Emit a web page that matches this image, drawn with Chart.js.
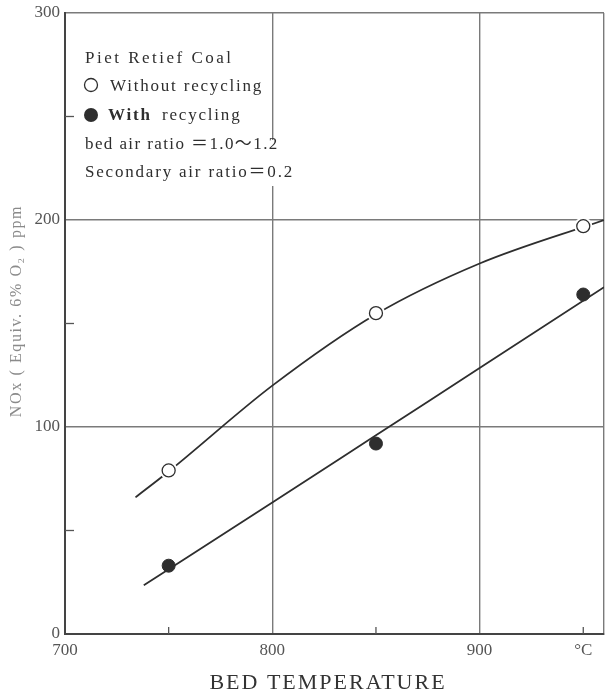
<!DOCTYPE html>
<html>
<head>
<meta charset="utf-8">
<script src="https://cdn.jsdelivr.net/npm/chart.js@4.4.1/dist/chart.umd.min.js"></script>
<style>
  html, body { margin: 0; padding: 0; background: #fff; }
  canvas { display: block; }
</style>
</head>
<body>
<canvas id="noxChart" width="605" height="700"></canvas>
<script>
// measured points
const bedTemps = [750, 850, 950];
const noxWithout = [79, 155, 197];
const noxWith = [33, 92, 164];

// hand-drawn trend curves
const curveWithoutTemps = [734, 750, 800, 850, 900, 960];
const curveWithoutNox = [66, 78.5, 120, 154.5, 179, 200];
const curveWithTemps = [738, 800, 850, 900, 960];
const curveWithNox = [23.5, 63.5, 96, 128.5, 167.5];

// axes
const xTicks = [700, 750, 800, 850, 900, 950];
const xTickLabels = ['700', '', '800', '', '900', '°C'];
const yTicks = [0, 50, 100, 150, 200, 250, 300];
const yTickLabels = ['0', '', '100', '', '200', '', '300'];
const xTitle = 'BED TEMPERATURE';
const yTitle = 'NOx ( Equiv. 6% O₂ ) ppm';

// legend block
const legendTitle = 'Piet Retief Coal';
const legendWithout = 'Without recycling';
const legendWith = 'With recycling';
const noteLines = ['bed air ratio ＝1.0～1.2', 'Secondary air ratio＝0.2'];

const toXY = (xs, ys) => xs.map((x, i) => ({ x: x, y: ys[i] }));

const SERIF = "'Liberation Serif', 'DejaVu Serif', 'Noto Sans CJK JP', serif";
const INK = '#2e2e2e';
const GRID = '#7a7a7a';

// 注記・補助目盛り
const annotate = {
  id: 'annotate',
  afterDraw(chart) {
    const { ctx, chartArea, scales } = chart;
    const x = scales.x, y = scales.y;
    ctx.save();

    // minor ticks (inward)
    ctx.strokeStyle = '#555';
    ctx.lineWidth = 1.3;
    xTicks.forEach(v => {
      if (v % 100 === 0) return;
      const px = x.getPixelForValue(v);
      ctx.beginPath();
      ctx.moveTo(px, chartArea.bottom);
      ctx.lineTo(px, chartArea.bottom - 7);
      ctx.stroke();
    });
    yTicks.forEach(v => {
      if (v % 100 === 0) return;
      const py = y.getPixelForValue(v);
      ctx.beginPath();
      ctx.moveTo(chartArea.left, py);
      ctx.lineTo(chartArea.left + 9, py);
      ctx.stroke();
    });

    // legend block
    const lx = 85;
    ctx.fillStyle = '#fff';
    ctx.fillRect(lx - 4, 140, 222, 46);

    ctx.fillStyle = INK;
    ctx.textAlign = 'left';
    ctx.textBaseline = 'alphabetic';
    ctx.font = '17px ' + SERIF;
    ctx.letterSpacing = '2.5px';
    ctx.fillText(legendTitle, lx, 63);
    ctx.letterSpacing = '1.8px';
    ctx.fillText(legendWithout, 110, 91);
    ctx.font = 'bold 17px ' + SERIF;
    ctx.fillText('With', 108, 120);
    ctx.font = '17px ' + SERIF;
    ctx.fillText('recycling', 162, 120);
    ctx.letterSpacing = '1.4px';
    ctx.fillText(noteLines[0], lx, 149);
    ctx.letterSpacing = '1.8px';
    ctx.fillText(noteLines[1], lx, 177);

    ctx.lineWidth = 1.3;
    ctx.strokeStyle = INK;
    ctx.beginPath();
    ctx.arc(91, 85, 6.5, 0, Math.PI * 2);
    ctx.stroke();
    ctx.beginPath();
    ctx.arc(91, 115, 7, 0, Math.PI * 2);
    ctx.fill();

    // axis titles
    ctx.letterSpacing = '1.6px';
    ctx.fillStyle = '#8a8a8a';
    ctx.font = '16px ' + SERIF;
    ctx.save();
    ctx.translate(17, 311);
    ctx.rotate(-Math.PI / 2);
    ctx.textAlign = 'center';
    ctx.textBaseline = 'middle';
    ctx.fillText(yTitle, 0, 0);
    ctx.restore();

    ctx.letterSpacing = '2px';
    ctx.fillStyle = '#333';
    ctx.font = '22px ' + SERIF;
    ctx.textAlign = 'center';
    ctx.textBaseline = 'middle';
    ctx.fillText(xTitle, 328, 683);

    ctx.restore();
  }
};

const ctx = document.getElementById('noxChart').getContext('2d');
const noxChart = new Chart(ctx, {
  type: 'scatter',
  data: {
    datasets: [
      {
        label: 'Without recycling',
        data: toXY(bedTemps, noxWithout),
        pointRadius: 6.5,
        pointBackgroundColor: '#fff',
        pointBorderColor: INK,
        pointBorderWidth: 1.3
      },
      {
        label: 'With recycling',
        data: toXY(bedTemps, noxWith),
        pointRadius: 6.5,
        pointBackgroundColor: INK,
        pointBorderColor: INK,
        pointBorderWidth: 1
      },
      {
        // white halo so the curve breaks around the open circles
        label: 'halo',
        data: toXY(bedTemps, noxWithout),
        pointRadius: 9,
        pointBackgroundColor: '#fff',
        pointBorderWidth: 0
      },
      {
        label: 'curve without',
        data: toXY(curveWithoutTemps, curveWithoutNox),
        showLine: true,
        pointRadius: 0,
        borderColor: INK,
        borderWidth: 1.8,
        cubicInterpolationMode: 'monotone'
      },
      {
        label: 'curve with',
        data: toXY(curveWithTemps, curveWithNox),
        showLine: true,
        pointRadius: 0,
        borderColor: INK,
        borderWidth: 1.8,
        cubicInterpolationMode: 'monotone'
      }
    ]
  },
  options: {
    responsive: false,
    animation: false,
    layout: { autoPadding: false, padding: { top: 13, right: 1, left: 0, bottom: 0 } },
    plugins: {
      legend: { display: false },
      tooltip: { enabled: false }
    },
    scales: {
      x: {
        type: 'linear',
        min: 700,
        max: 960,
        afterBuildTicks: scale => {
          scale.ticks = xTicks.concat([scale.max]).map(v => ({ value: v }));
        },
        afterFit: scale => {
          scale.height = 66;
          scale.paddingLeft = 0;
          scale.paddingRight = 0;
        },
        grid: {
          drawTicks: false,
          lineWidth: 1.4,
          color: c => (c.tick && (c.tick.value % 100 === 0 || c.tick.value === 960)) ? GRID : 'rgba(0,0,0,0)'
        },
        border: { color: '#444', width: 2 },
        ticks: {
          padding: 6,
          autoSkip: false,
          maxRotation: 0,
          color: '#555',
          font: { family: SERIF, size: 17 },
          callback: v => {
            const i = xTicks.indexOf(v);
            return i >= 0 ? xTickLabels[i] : '';
          }
        }
      },
      y: {
        min: 0,
        max: 300,
        afterBuildTicks: scale => {
          scale.ticks = yTicks.map(v => ({ value: v }));
        },
        afterFit: scale => {
          scale.width = 65;
          scale.paddingTop = 0;
          scale.paddingBottom = 0;
        },
        grid: {
          drawTicks: false,
          lineWidth: 1.4,
          color: c => (c.tick && c.tick.value % 100 === 0) ? GRID : 'rgba(0,0,0,0)'
        },
        border: { color: '#444', width: 2 },
        ticks: {
          padding: 5,
          autoSkip: false,
          color: '#555',
          font: { family: SERIF, size: 17 },
          callback: v => {
            const i = yTicks.indexOf(v);
            return i >= 0 ? yTickLabels[i] : '';
          }
        }
      }
    }
  },
  plugins: [annotate]
});
</script>
</body>
</html>
